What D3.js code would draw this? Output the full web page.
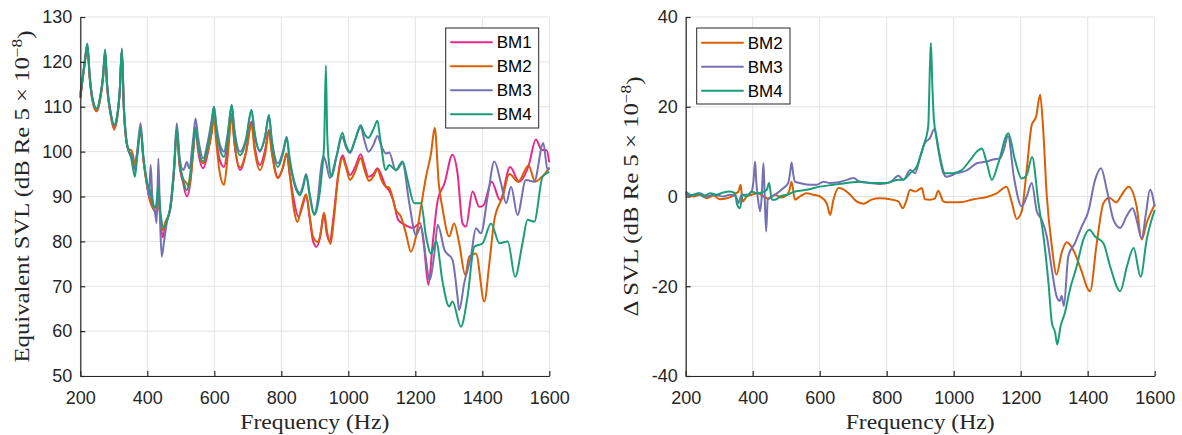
<!DOCTYPE html>
<html>
<head>
<meta charset="utf-8">
<script src="https://cdn.jsdelivr.net/npm/d3@7"></script>
<style>
    body { margin: 0; background: #fff; }
    svg { display: block; }
    .tick text { font-family: "Liberation Sans", Arial, sans-serif; font-size: 18px; fill: #262626; }
    .axis-title { font-family: "Liberation Serif", "Times New Roman", serif; font-size: 20px; fill: #262626; }
    .legend text { font-family: "Liberation Sans", Arial, sans-serif; font-size: 17px; fill: #000; }
</style>
</head>
<body>
<svg id="chart" width="1182" height="435"></svg>
<script>
// ---- data (frequency Hz, level dB) ----
const freqTicks = [200, 400, 600, 800, 1000, 1200, 1400, 1600];
const svlTicks = [50, 60, 70, 80, 90, 100, 110, 120, 130];
const deltaTicks = [-40, -20, 0, 20, 40];

const svlBM1 = [[200,112],[206,115.5],[213,119.5],[221,123.5],[228,116.5],[236,111.5],[249,109],[260,112],[268,116.5],[274,122],[280,114.5],[290,108.5],[301,105.3],[310,107.5],[318,113.5],[324,122.5],[330,109.5],[337,102.5],[345,100],[352,99],[358,97.5],[363,96.5],[370,99.5],[380,105],[388,98.5],[398,93],[408,89],[420,87],[428,86],[433,90],[440,84],[446,80.9],[455,84],[468,87],[480,96],[488,104.5],[496,97],[507,93],[518,90],[528,93],[537,100],[544,105],[552,100],[567,96.3],[580,99.5],[592,104.5],[599,108.4],[606,103],[617,98],[629,96.6],[640,101],[652,108.4],[660,102],[677,95.9],[695,100],[711,106.7],[720,101.5],[736,97],[752,100.5],[763,104.8],[772,100],[790,94.3],[805,96.5],[816,99.6],[825,95],[838,89],[851,85.5],[862,87.5],[874,90.3],[885,85],[895,80],[905,78.8],[916,81],[927,86.3],[935,82],[945,80],[955,85],[970,95],[983,99.2],[993,97],[1005,94.8],[1020,96.5],[1037,99.4],[1048,97],[1060,94.4],[1075,95],[1087,96.3],[1100,94.5],[1112,92.2],[1122,91.3],[1134,89.2],[1149,84.8],[1169,83.7],[1194,83],[1214,84.1],[1226,79],[1239,70.3],[1252,79.6],[1267,89.2],[1287,92.9],[1311,99.3],[1326,95.2],[1341,84],[1351,83.3],[1371,91.1],[1391,87.7],[1403,88],[1428,93.3],[1453,89.2],[1483,96.6],[1510,93.3],[1538,96.8],[1560,102.7],[1577,100.4],[1592,100.3],[1600,97.6]];

const svlBM2 = [[200,112],[206,115.5],[213,119.5],[221,123.5],[228,116.5],[236,111.5],[249,109],[260,112],[268,116.5],[274,122],[280,114.5],[290,108.5],[301,104.9],[310,107.5],[318,113.5],[324,122.5],[330,109.5],[337,102.5],[345,100.5],[352,100.3],[358,99],[363,97],[370,100],[380,105],[388,98.5],[398,93],[408,89.5],[420,87],[428,86.5],[433,89],[440,85],[446,82.5],[455,84.5],[468,87],[480,96],[488,105],[496,97.5],[507,94],[518,92.9],[525,92],[537,100],[544,105.5],[552,101],[567,97.4],[580,100],[592,104],[599,107.8],[606,102],[617,95],[629,92.6],[640,99],[652,107.8],[660,102],[677,96.5],[695,100],[711,106],[720,100.5],[736,95.9],[752,99.5],[763,104.4],[772,99.5],[790,94.1],[805,96.5],[816,99.6],[825,95],[838,87],[848,84.3],[860,87.5],[874,90.5],[885,85.5],[895,81],[910,79.8],[920,83],[928,86.3],[937,82],[947,79.4],[957,85],[970,94.5],[983,98.6],[993,96.5],[1005,93.7],[1020,95.5],[1037,98.6],[1048,96],[1062,93.5],[1075,94.5],[1087,96],[1100,93.5],[1112,92.2],[1122,92],[1142,87],[1157,85.5],[1172,81.8],[1187,77.7],[1202,81.1],[1217,87.7],[1232,94.4],[1247,99.6],[1258,105.3],[1270,92.9],[1282,87],[1301,81.1],[1316,84],[1331,79.6],[1349,72.5],[1361,76.6],[1381,77.3],[1406,66.6],[1421,75.1],[1436,84.8],[1461,90],[1481,95],[1507,93.3],[1538,96.9],[1558,93.3],[1578,94.4],[1600,96.3]];

const svlBM3 = [[200,112.5],[206,116],[213,120],[221,124],[228,117],[236,112],[249,109.5],[260,112.5],[268,117],[274,122.5],[280,115],[290,109],[301,105.8],[310,108],[318,114],[324,122.8],[330,110],[337,103],[345,100],[352,99.5],[358,97],[363,96],[370,100],[380,106.3],[388,99],[398,93.7],[405,90],[410,97],[415,90],[422,87],[428,84.1],[433,98.5],[438,85],[443,76.6],[450,80],[458,84],[468,87.5],[480,97],[488,106.3],[496,99],[507,95.9],[512,96.5],[518,97.7],[525,96.3],[537,103],[544,107.4],[552,103],[567,98.5],[580,102],[592,107],[599,110],[606,106],[617,101.5],[629,100],[640,104],[652,110.4],[660,105],[677,100],[695,103],[711,109.3],[720,104.5],[736,100],[752,103.5],[763,107.8],[772,102.5],[790,97.4],[805,100],[816,103.3],[825,98.5],[840,93],[856,90.8],[865,92.5],[874,95],[885,90.5],[898,86.2],[910,90],[918,96],[925,98.9],[932,98],[945,94.1],[965,99],[982,103.3],[993,101],[1005,99.7],[1020,102.5],[1037,105.5],[1048,102.5],[1060,100],[1075,101.5],[1087,103.5],[1100,101],[1112,99.6],[1122,99.8],[1142,95.8],[1162,97.4],[1182,88.5],[1202,81.4],[1217,83.3],[1232,75.9],[1242,71.4],[1257,77.3],[1267,83.7],[1287,78.1],[1311,75.9],[1326,67.7],[1331,64.7],[1346,70.7],[1366,76.6],[1381,82.9],[1396,81.8],[1416,90],[1436,97.8],[1456,92.9],[1471,88.5],[1486,92.2],[1505,85.9],[1530,93.7],[1555,93.3],[1582,101.9],[1595,95.9],[1600,96.5]];

const svlBM4 = [[200,113],[206,116],[213,120],[221,124.1],[228,117],[236,112],[249,109.6],[260,112.5],[268,117],[274,122.8],[280,115],[290,109],[301,106],[310,108],[318,114],[324,123],[330,110],[337,103],[345,100],[352,98.5],[358,96],[363,94.4],[370,99],[380,105.2],[388,99],[398,93.5],[408,91.4],[418,88],[425,87.5],[433,92.2],[440,86],[450,83],[460,85],[470,88],[480,96],[488,105.2],[496,98],[507,93.7],[518,91.4],[528,95],[537,101],[544,105.2],[552,101],[567,97.8],[580,101],[592,106],[599,110],[606,105],[617,100.5],[629,98.8],[640,103],[652,110.4],[660,104],[677,99.2],[695,102.5],[711,109.3],[720,104],[736,100.3],[752,103.5],[763,108.2],[772,102],[790,96.6],[805,99.5],[816,103],[825,98],[840,92.5],[856,90.3],[865,92],[874,94.8],[885,90],[898,85.9],[910,88.5],[921,95.2],[928,102],[933,119.2],[937,104],[943,97],[950,94.4],[965,99],[982,104.2],[993,101.5],[1005,100],[1020,102.5],[1037,105.9],[1048,104],[1060,103.1],[1075,105],[1087,106.9],[1095,103],[1112,95.9],[1122,97],[1142,95.9],[1162,97.8],[1177,93.7],[1197,88.5],[1217,88.5],[1232,81.1],[1247,77.3],[1262,80],[1282,70.7],[1301,65.5],[1311,66.6],[1336,61],[1356,67.7],[1376,78.8],[1401,79.6],[1426,84],[1451,79.6],[1476,80],[1498,72.1],[1520,79.6],[1535,84.8],[1555,84.4],[1580,94.4],[1600,95.5]];

const deltaBM2 = [[200,0.7],[223,0],[243,0.4],[263,-0.4],[283,0.2],[302,-0.6],[332,-0.2],[350,0.7],[358,1.2],[364,2.6],[370,-1.1],[382,0],[397,0.4],[417,0.7],[432,0],[447,-0.5],[467,0.4],[485,-0.2],[503,0.4],[510,1.5],[516,3.3],[526,-0.7],[541,0],[561,0.7],[581,0.4],[601,0],[621,-1.5],[631,-4.1],[641,-0.7],[656,1.9],[671,1.6],[691,0.4],[710,-1.1],[730,-1.6],[755,-0.7],[780,-0.4],[810,-0.6],[835,-1.1],[848,-2.6],[858,-1.1],[870,1.5],[885,1.1],[905,1.9],[914,-0.6],[929,-0.7],[944,-0.4],[954,1.3],[969,-1.1],[979,-1.3],[1019,-1.3],[1059,-0.6],[1099,-0.1],[1128,0.7],[1158,2.2],[1173,-1.2],[1188,-5],[1203,-3.3],[1218,6],[1233,16],[1246,17.8],[1258,22.7],[1266,16.3],[1278,0],[1293,-11.1],[1307,-17.4],[1322,-12.6],[1337,-10.2],[1357,-11.9],[1377,-15.6],[1407,-21.1],[1427,-10.4],[1447,-1.5],[1465,-0.3],[1485,-1.3],[1500,0.2],[1522,2.2],[1546,-2.2],[1561,-9.6],[1576,-5.9],[1600,-1.8]];

const deltaBM3 = [[200,0.4],[223,0.3],[243,0.7],[263,0],[283,0.4],[313,0],[332,0.4],[350,0],[357,-1.5],[367,0.4],[385,0.4],[397,1.1],[403,4],[407,7.8],[411,3],[414,0.7],[422,-3.3],[427,0],[432,7.4],[435,2],[440,-7.8],[445,-0.7],[457,0],[472,0.7],[492,1.9],[506,3],[512,5.5],[516,7.6],[521,5],[526,3.3],[541,3],[571,2.6],[591,2.6],[611,3.3],[631,3],[651,3.1],[681,3.7],[701,4.1],[720,3.3],[750,3],[780,2.8],[810,3.2],[835,4.6],[850,3.7],[870,5.9],[885,5.2],[900,8.9],[914,11.9],[929,13],[942,15],[954,10.4],[969,5.2],[979,4.4],[1009,5.2],[1039,5.8],[1069,7.4],[1098,7.8],[1120,8.3],[1138,8.5],[1150,10.5],[1162,13.5],[1180,4.2],[1203,-2.2],[1218,0],[1233,3],[1248,-3.3],[1263,-5.2],[1278,-8.9],[1293,-16.3],[1307,-22.2],[1317,-23.3],[1322,-22.1],[1329,-24.4],[1342,-13.3],[1362,-10.4],[1382,-6.7],[1402,-3.3],[1422,3.7],[1440,6.3],[1457,1.5],[1477,-5.2],[1497,-7],[1516,-4.4],[1534,-2.6],[1546,-5.2],[1561,-9.3],[1574,-3.7],[1586,1.5],[1600,-2.2]];

const deltaBM4 = [[200,1.1],[218,0.3],[238,0.7],[253,0],[273,0.7],[293,0.4],[312,0.9],[332,1.1],[347,0.7],[354,-1.9],[362,-2.6],[370,0.4],[382,0],[397,1.1],[412,0.7],[427,0.9],[442,1.5],[449,3],[457,-0.7],[467,-0.7],[482,0],[502,0.4],[526,1.1],[561,1.5],[601,2.2],[641,2.6],[681,3],[720,3.3],[760,3],[800,3],[830,3.7],[850,3.8],[870,5.2],[890,6.7],[909,11.1],[924,15.6],[929,28.9],[932,34.2],[936,25.2],[941,17],[949,13.3],[959,8.9],[974,5.2],[999,5.2],[1024,5.9],[1049,8.1],[1069,10],[1084,10.7],[1099,7.4],[1114,3.7],[1133,7.4],[1163,14.1],[1183,8.1],[1203,4],[1218,4.8],[1234,8.8],[1253,-1.5],[1268,-8.9],[1283,-19.3],[1293,-28.1],[1303,-30.4],[1309,-33],[1319,-28.9],[1332,-25.9],[1347,-20.7],[1367,-15.6],[1387,-9.6],[1405,-7.4],[1422,-8.9],[1447,-10.4],[1467,-15.6],[1497,-21.1],[1517,-15.6],[1537,-11.5],[1558,-17.9],[1576,-9.6],[1600,-3]];

const COLORS = { BM1: "#e7298a", BM2: "#d95f02", BM3: "#7570b3", BM4: "#1b9e77" };
const PLOT_TOP = 17;
const PLOT_BOTTOM = 376;
const AXIS_COLOR = "#262626";
const GRID_COLOR = "#e3e3e3";
const plainNumber = d => String(d);

const svg = d3.select("#chart");

const panels = [
    {
        left: 80.3, right: 549.3,
        yDomain: [50, 130], yTicks: svlTicks,
        yLabel: "Equivalent SVL (dB Re 5 \u00d7 10", yLabelX: 28.5, yLabelLen: 332,
        series: [["BM1", svlBM1], ["BM2", svlBM2], ["BM3", svlBM3], ["BM4", svlBM4]],
        legend: { x: 445.7, y: 28, w: 93, rowY: 42.3, rowH: 24 }
    },
    {
        left: 685.7, right: 1154.7,
        yDomain: [-40, 40], yTicks: deltaTicks,
        yLabel: "\u0394 SVL (dB Re 5 \u00d7 10", yLabelX: 638, yLabelLen: 240,
        series: [["BM2", deltaBM2], ["BM3", deltaBM3], ["BM4", deltaBM4]],
        legend: { x: 696.7, y: 28, w: 93.3, rowY: 42.7, rowH: 24 }
    }
];

panels.forEach(p => drawPanel(p));

function drawPanel(p) {
    const x = d3.scaleLinear().domain([200, 1600]).range([p.left, p.right]);
    const y = d3.scaleLinear().domain(p.yDomain).range([PLOT_BOTTOM, PLOT_TOP]);
    const g = svg.append("g");

    // grid
    g.append("g").selectAll("line").data(freqTicks).join("line")
        .attr("x1", d => x(d)).attr("x2", d => x(d))
        .attr("y1", PLOT_TOP).attr("y2", PLOT_BOTTOM)
        .attr("stroke", GRID_COLOR);
    g.append("g").selectAll("line").data(p.yTicks).join("line")
        .attr("x1", p.left).attr("x2", p.right)
        .attr("y1", d => y(d)).attr("y2", d => y(d))
        .attr("stroke", GRID_COLOR);

    // curves
    const line = d3.line()
        .x(d => x(d[0]))
        .y(d => y(d[1]))
        .curve(d3.curveMonotoneX);

    g.append("g").selectAll("path").data(p.series).join("path")
        .attr("d", d => line(d[1]))
        .attr("fill", "none")
        .attr("stroke", d => COLORS[d[0]])
        .attr("stroke-width", 2)
        .attr("stroke-linejoin", "round");

    // axes
    g.append("g")
        .attr("transform", `translate(0,${ PLOT_BOTTOM })`)
        .call(d3.axisBottom(x).tickValues(freqTicks).tickFormat(plainNumber)
            .tickSizeInner(-5).tickSizeOuter(0).tickPadding(15))
        .call(styleAxis);
    g.append("g")
        .attr("transform", `translate(${ p.left },0)`)
        .call(d3.axisLeft(y).tickValues(p.yTicks).tickFormat(plainNumber)
            .tickSizeInner(-5).tickSizeOuter(0).tickPadding(8))
        .call(styleAxis);

    // titles
    g.append("text")
        .attr("class", "axis-title")
        .attr("x", (p.left + p.right) / 2)
        .attr("y", 429)
        .attr("text-anchor", "middle")
        .attr("textLength", 149)
        .attr("lengthAdjust", "spacingAndGlyphs")
        .text("Frequency (Hz)");

    const yt = g.append("text")
        .attr("class", "axis-title")
        .attr("transform", `translate(${ p.yLabelX },${ (PLOT_TOP + PLOT_BOTTOM) / 2 }) rotate(-90)`)
        .attr("text-anchor", "middle")
        .attr("textLength", p.yLabelLen)
        .attr("lengthAdjust", "spacingAndGlyphs");
    yt.append("tspan").text(p.yLabel);
    yt.append("tspan").attr("dy", "-0.5em").attr("font-size", "14px").text("\u22128");
    yt.append("tspan").attr("dy", "0.5em").text(")");

    drawLegend(g, p);
}

function styleAxis(sel) {
    sel.select(".domain").attr("stroke", AXIS_COLOR).attr("stroke-width", 1.2);
    sel.selectAll(".tick line").attr("stroke", AXIS_COLOR).attr("stroke-width", 1.2);
    sel.attr("font-family", null).attr("font-size", null);
}

function drawLegend(g, p) {
    const lg = p.legend;
    const n = p.series.length;
    const group = g.append("g").attr("class", "legend");

    group.append("rect")
        .attr("x", lg.x).attr("y", lg.y)
        .attr("width", lg.w).attr("height", (n - 1) * lg.rowH + 28)
        .attr("fill", "#fff")
        .attr("stroke", AXIS_COLOR)
        .attr("stroke-width", 1);

    const cell = group.selectAll(".legend-cell").data(p.series).join("g")
        .attr("class", "legend-cell")
        .attr("transform", (d, i) => `translate(${ lg.x }, ${ lg.rowY + i * lg.rowH })`);

    cell.append("line")
        .attr("x1", 4.5).attr("x2", 47)
        .attr("stroke", d => COLORS[d[0]])
        .attr("stroke-width", 2);

    cell.append("text")
        .attr("x", 51)
        .attr("dy", "0.36em")
        .text(d => d[0]);
}
</script>
</body>
</html>
